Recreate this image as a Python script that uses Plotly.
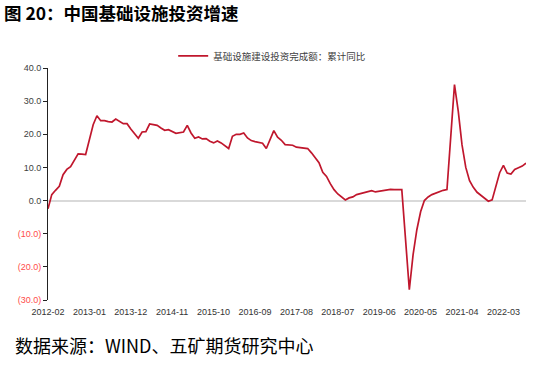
import plotly.graph_objects as go

# ---- data ----
start_year, start_month = 2012, 2
n_months = 128  # 2012-02 .. 2022-09
months = []
y, m = start_year, start_month
for _ in range(n_months):
    months.append(f"{y}-{m:02d}")
    m += 1
    if m > 12:
        m = 1
        y += 1

# cumulative YoY growth (%), January not published (None)
infra_yoy = [
    -2.5, 1.8, 3.1, 4.3, 7.8, 9.4, 10.2, 12.1, 14.1, 14.0, 13.9,          # 2012-02..12
    None, 22.9, 25.6, 24.1, 24.1, 23.8, 23.7, 24.6, 24.0, 23.2, 23.2, 21.6,  # 2013
    None, 18.8, 20.7, 20.8, 23.1, 22.9, 22.7, 21.9, 21.2, 21.4, 20.9, 20.3,  # 2014
    None, 20.7, 22.7, 20.4, 18.8, 19.2, 18.6, 18.7, 17.9, 17.4, 18.0, 17.4,  # 2015
    None, 15.7, 19.4, 20.0, 20.0, 20.4, 18.9, 18.1, 17.8, 17.6, 17.3, 15.7,  # 2016
    None, 21.1, 19.1, 18.2, 16.9, 16.7, 16.7, 16.1, 15.9, 15.8, 15.7, 14.4,  # 2017
    None, 11.4, 8.5, 7.3, 5.1, 3.3, 2.0, 1.0, 0.2, 0.8, 1.1, 1.8,            # 2018
    None, 2.5, 2.7, 3.0, 2.6, 2.8, 2.9, 3.1, 3.4, 3.3, 3.3, 3.3,             # 2019
    None, -26.9, -16.3, -8.8, -3.4, 0.0, 1.1, 1.8, 2.3, 2.8, 3.1, 3.3,       # 2020
    None, 35.0, 27.0, 16.8, 10.0, 6.0, 4.0, 2.5, 1.6, 0.8, -0.2, 0.2,        # 2021
    None, 8.4, 10.6, 8.3, 8.0, 9.4, 9.9, 10.4, 11.3,                         # 2022-01..09
]

x_tick_labels = ["2012-02", "2013-01", "2013-12", "2014-11", "2015-10", "2016-09",
                 "2017-08", "2018-07", "2019-06", "2020-05", "2021-04", "2022-03"]
y_tick_vals = [-30, -20, -10, 0, 10, 20, 30, 40]
y_tick_text = ['<span style="color:#FF4B4B">(30.0)</span>',
               '<span style="color:#FF4B4B">(20.0)</span>',
               '<span style="color:#FF4B4B">(10.0)</span>',
               "0.0", "10.0", "20.0", "30.0", "40.0"]

series_name = "基础设施建设投资完成额：累计同比"
title_text = "图 20：中国基础设施投资增速"
source_text = "数据来源：WIND、五矿期货研究中心"

# ---- figure ----
fig = go.Figure()
fig.add_trace(go.Scatter(
    x=months, y=infra_yoy, mode="lines", name=series_name,
    connectgaps=True,
    line=dict(color="#C0172D", width=1.7),
))

fig.update_layout(
    width=546, height=367, autosize=False,
    margin=dict(l=48, r=20, t=68, b=67, autoexpand=False),
    paper_bgcolor="white", plot_bgcolor="white",
    title=dict(text=f"<b>{title_text}</b>", x=4 / 546, xanchor="left",
               y=1 - 14 / 367, yanchor="middle",
               font=dict(family="Noto Sans CJK SC", size=17.5, color="black")),
    showlegend=True,
    legend=dict(orientation="h", x=0.469, xanchor="center", y=1.052, yanchor="middle",
                font=dict(family="Noto Sans CJK SC", size=9.5, color="#404040"),
                bgcolor="rgba(0,0,0,0)"),
    xaxis=dict(type="category", range=[0, n_months - 1],
               tickmode="array", tickvals=x_tick_labels, ticktext=x_tick_labels,
               showgrid=False, showline=False, zeroline=False,
               ticks="outside", ticklen=3, tickcolor="rgba(0,0,0,0)",
               tickangle=0,
               tickfont=dict(family="Liberation Sans", size=9, color="#333333")),
    yaxis=dict(range=[-30, 40], tickmode="array", tickvals=y_tick_vals, ticktext=y_tick_text,
               showgrid=False, showline=True, linecolor="#222222", linewidth=1,
               ticks="outside", ticklen=4, tickcolor="#222222", tickwidth=1,
               zeroline=True, zerolinecolor="#D9D9D9", zerolinewidth=1.5,
               tickfont=dict(family="Liberation Sans", size=9, color="#404040")),
    annotations=[dict(text=source_text, xref="paper", yref="paper",
                      x=(13 - 48) / 478, xanchor="left", y=(300 - 345) / 232, yanchor="middle",
                      showarrow=False,
                      font=dict(family="Noto Sans CJK SC", size=18, color="black"))],
)

fig.write_html("out.html", config={"displayModeBar": False},
               post_script="document.body.style.margin='0';document.body.style.overflow='hidden';")
